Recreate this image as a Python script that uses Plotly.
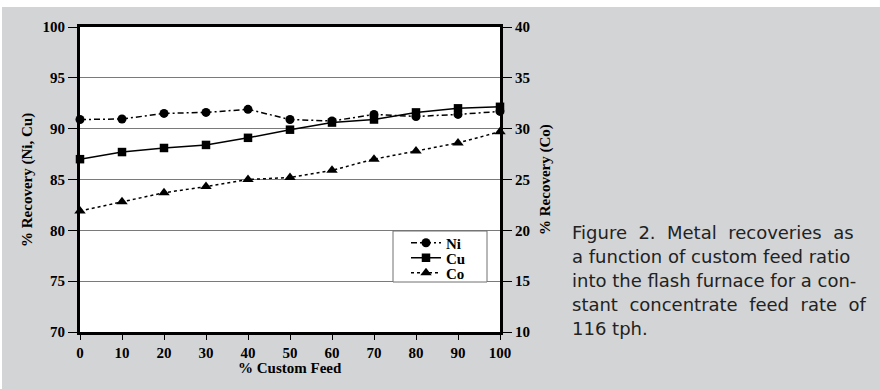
import plotly.graph_objects as go

# ---- data ----
custom_feed = [0, 10, 20, 30, 40, 50, 60, 70, 80, 90, 100]
ni_recovery = [90.9, 90.95, 91.5, 91.6, 91.9, 90.9, 90.75, 91.4, 91.2, 91.4, 91.7]
cu_recovery = [87.0, 87.7, 88.1, 88.4, 89.1, 89.9, 90.6, 90.9, 91.6, 92.0, 92.15]
co_recovery = [21.9, 22.8, 23.7, 24.3, 25.0, 25.2, 25.9, 27.0, 27.8, 28.6, 29.7]

x_ticks = [0, 10, 20, 30, 40, 50, 60, 70, 80, 90, 100]
left_ticks = [70, 75, 80, 85, 90, 95, 100]
right_ticks = [10, 15, 20, 25, 30, 35, 40]

caption_lines = [
    "Figure\u00a0 2.\u00a0 Metal\u00a0 recoveries\u00a0 as",
    "a function of custom feed ratio",
    "into the flash furnace for a con-",
    "stant\u00a0 concentrate\u00a0 feed\u00a0 rate\u00a0 of",
    "116 tph.",
]

W, H = 880, 389
L, R, T, B = 80, 380, 27, 57
PW, PH = W - L - R, H - T - B

def px_x(px):
    return (px - L) / PW

def px_y(py):
    return (H - B - py) / PH

SERIF = "Liberation Serif"
BG = "#d3d4d6"

fig = go.Figure()

fig.add_trace(go.Scatter(
    x=custom_feed, y=ni_recovery, name="Ni", mode="lines+markers",
    line=dict(color="black", width=1.5, dash="6px,3px,2px,3px"),
    marker=dict(symbol="circle", size=9, color="black"),
    cliponaxis=False, legend="legend",
))
fig.add_trace(go.Scatter(
    x=custom_feed, y=cu_recovery, name="Cu", mode="lines+markers",
    line=dict(color="black", width=1.5),
    marker=dict(symbol="square", size=8.5, color="black"),
    cliponaxis=False, legend="legend2",
))
fig.add_trace(go.Scatter(
    x=custom_feed, y=co_recovery, name="Co", mode="lines+markers", yaxis="y2",
    line=dict(color="black", width=1.5, dash="3px,3px"),
    marker=dict(symbol="triangle-up", size=10, color="black"),
    cliponaxis=False, legend="legend3",
))

tickfont = dict(family=SERIF, size=15, color="black", weight="bold")
legfont = dict(family=SERIF, size=15, color="black", weight="bold")

def leg(cy):
    return dict(
        x=px_x(406), y=px_y(cy), xanchor="left", yanchor="middle",
        bgcolor="rgba(0,0,0,0)", borderwidth=0, font=legfont,
        itemwidth=30,
    )

fig.update_layout(
    width=W, height=H,
    margin=dict(l=L, r=R, t=T, b=B, autoexpand=False),
    paper_bgcolor=BG,
    plot_bgcolor="white",
    showlegend=True,
    legend=leg(243),
    legend2=leg(258),
    legend3=leg(273),
    xaxis=dict(
        range=[0, 100], tickvals=x_ticks, ticks="outside", ticklen=5,
        tickwidth=1, tickcolor="black", tickfont=tickfont,
        showline=True, linewidth=3, linecolor="black", mirror=True,
        showgrid=False, zeroline=False, fixedrange=True,
    ),
    yaxis=dict(
        range=[70, 100], tickvals=left_ticks, ticks="outside", ticklen=9,
        tickwidth=1, tickcolor="black", tickfont=tickfont,
        showline=True, linewidth=3, linecolor="black", mirror=True,
        showgrid=True, gridcolor="#7a7a7a", gridwidth=1,
        zeroline=False, fixedrange=True,
    ),
    yaxis2=dict(
        range=[10, 40], tickvals=right_ticks, overlaying="y", side="right",
        ticks="outside", ticklen=9, tickwidth=1, tickcolor="black",
        tickfont=tickfont, showline=True, linewidth=3, linecolor="black",
        showgrid=False, zeroline=False, fixedrange=True,
    ),
)

shapes = [
    # white page strips around the grey panel
    dict(type="rect", xref="paper", yref="paper",
         x0=px_x(-5), x1=px_x(W + 5), y0=px_y(7), y1=px_y(-5),
         fillcolor="white", line=dict(width=0), layer="below"),
    dict(type="rect", xref="paper", yref="paper",
         x0=px_x(-5), x1=px_x(2), y0=px_y(H + 5), y1=px_y(-5),
         fillcolor="white", line=dict(width=0), layer="below"),
    # legend frame
    dict(type="rect", xref="paper", yref="paper",
         x0=px_x(393), x1=px_x(487), y0=px_y(282), y1=px_y(231),
         fillcolor="white", line=dict(width=1, color="#707070"), layer="above"),
]
fig.update_layout(shapes=shapes)

annotations = [
    dict(text="% Recovery (Ni, Cu)", xref="paper", yref="paper",
         x=px_x(27), y=px_y(180), textangle=-90, showarrow=False,
         xanchor="center", yanchor="middle",
         font=dict(family=SERIF, size=15, color="black", weight="bold")),
    dict(text="% Recovery (Co)", xref="paper", yref="paper",
         x=px_x(545), y=px_y(180), textangle=-90, showarrow=False,
         xanchor="center", yanchor="middle",
         font=dict(family=SERIF, size=15, color="black", weight="bold")),
    dict(text="% Custom Feed", xref="paper", yref="paper",
         x=px_x(290), y=px_y(368), showarrow=False,
         xanchor="center", yanchor="middle",
         font=dict(family=SERIF, size=15, color="black", weight="bold")),
]
for i, line in enumerate(caption_lines):
    annotations.append(dict(
        text=line, xref="paper", yref="paper",
        x=px_x(570), y=px_y(232 + 24 * i), showarrow=False,
        xanchor="left", yanchor="middle", align="left",
        font=dict(family="DejaVu Sans", size=18, color="#222222"),
    ))
fig.update_layout(annotations=annotations)

fig.write_html(
    "out.html",
    config={"displayModeBar": False, "staticPlot": False},
    post_script="document.body.style.margin='0';",
)
